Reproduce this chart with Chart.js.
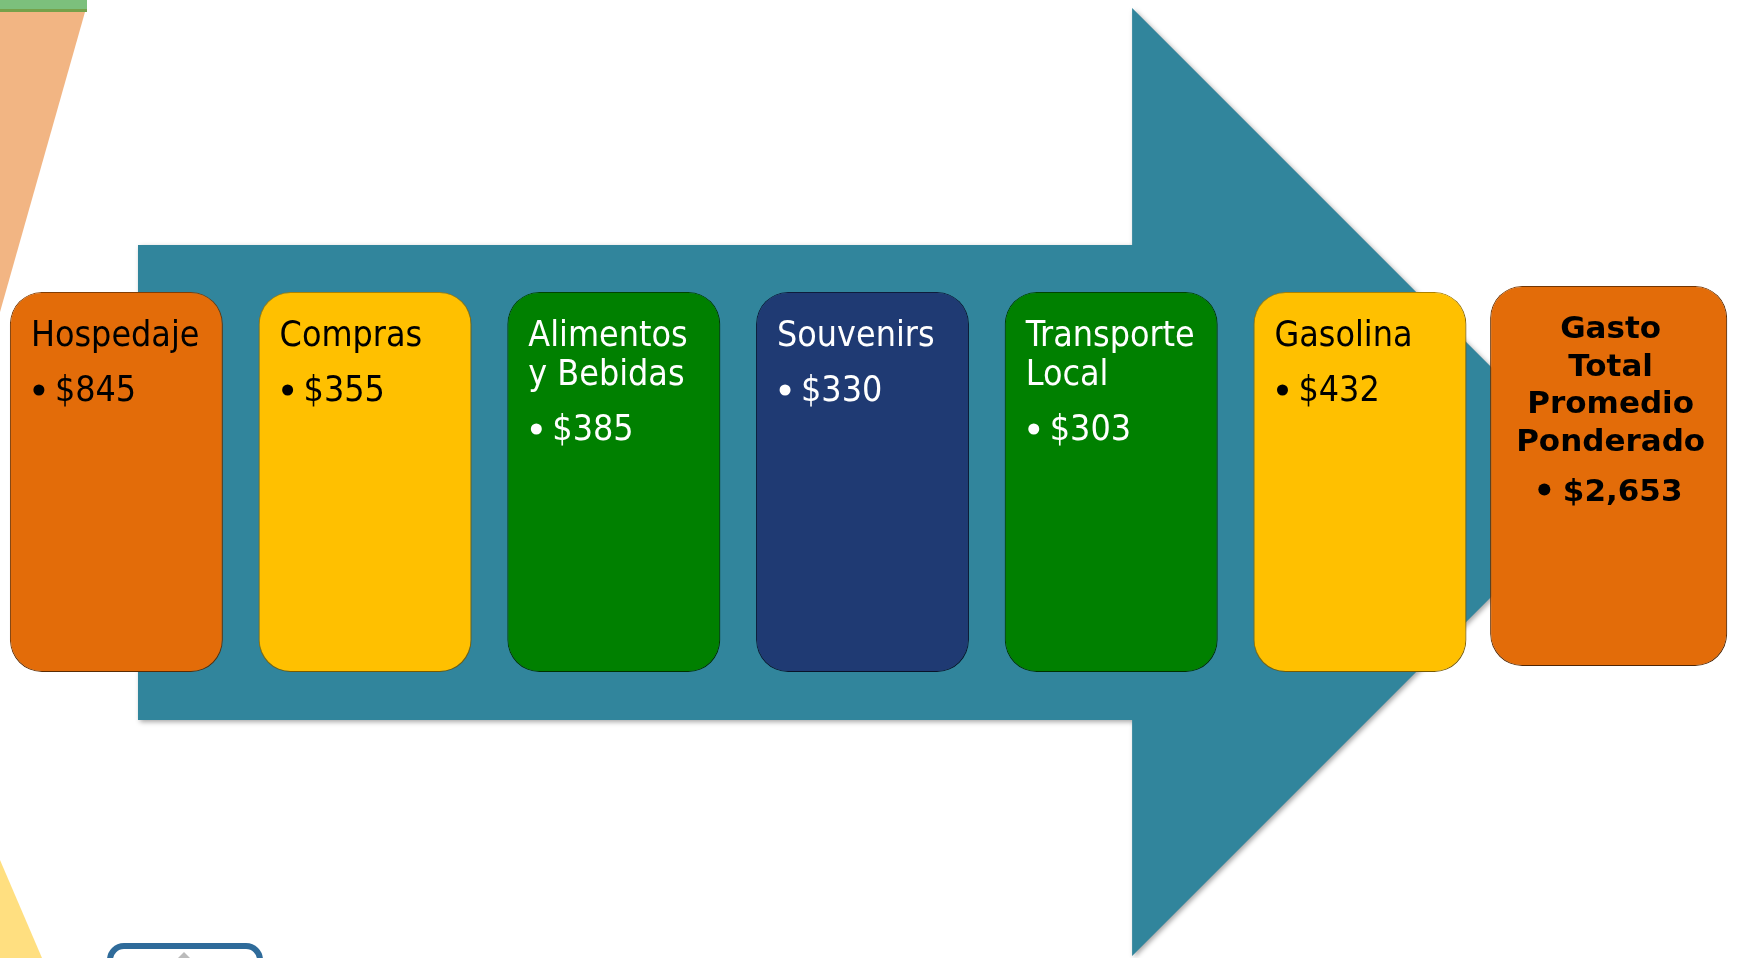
<!DOCTYPE html>
<html lang="es">
<head>
    <meta charset="utf-8">
    <title>Gasto Total Promedio Ponderado</title>
    <script src="https://cdn.jsdelivr.net/npm/chart.js@4"></script>
    <style>
    html, body {
        margin: 0;
        padding: 0;
        background: #fff;
        overflow: hidden;
    }
    /* el lienzo empieza 8px fuera de la ventana para que las cajas caigan donde van */
    #wrap {
        position: absolute;
        left: -8px;
        top: 0;
        width: 1741px;
        height: 958px;
    }
    </style>
</head>
<body>
    <div id="wrap"><canvas id="chart"></canvas></div>

    <script>
        // datos del diagrama
        var categorias = ['Hospedaje', 'Compras', 'Alimentos y Bebidas', 'Souvenirs', 'Transporte Local', 'Gasolina'];
        var lineasTitulo = [['Hospedaje'], ['Compras'], ['Alimentos', 'y Bebidas'], ['Souvenirs'], ['Transporte', 'Local'], ['Gasolina']];
        var gastos = [845, 355, 385, 330, 303, 432];
        var tituloTotal = ['Gasto', 'Total', 'Promedio', 'Ponderado'];
        var gastoTotal = 2653;

        var coloresCaja = ['#E36C09', '#FFC000', '#008000', '#1F3A73', '#008000', '#FFC000'];
        var bordesCaja = ['#8A4206', '#B88A00', '#004A00', '#0F1E40', '#004A00', '#B88A00'];
        var coloresTexto = ['#000', '#000', '#fff', '#fff', '#fff', '#000'];

        var OFF = 8;                 // desplazamiento del lienzo
        var CAJA = [292, 672];       // alto de las cajas (eje y invertido)
        var CAJA_TOTAL = [286, 666];

        var fuente = '"DejaVu Sans Condensed", "DejaVu Sans", sans-serif';

        function dinero(v) {
            return '$' + v.toLocaleString('en-US');
        }

        var diagrama = {
            id: 'diagrama',
            beforeDraw: function (chart) {
                var ctx = chart.ctx;
                ctx.save();
                ctx.fillStyle = '#fff';
                ctx.fillRect(0, 0, chart.width, chart.height);
                ctx.translate(OFF, 0);

                // adornos de la diapositiva
                ctx.fillStyle = '#F2B583';
                ctx.beginPath();
                ctx.moveTo(0, 12); ctx.lineTo(85, 12); ctx.lineTo(0, 312);
                ctx.closePath(); ctx.fill();
                ctx.fillStyle = '#7CC07C';
                ctx.fillRect(0, 0, 87, 9);
                ctx.fillStyle = '#76A14A';
                ctx.fillRect(0, 9, 87, 3);

                ctx.fillStyle = '#FFDF80';
                ctx.beginPath();
                ctx.moveTo(0, 860); ctx.lineTo(42, 958); ctx.lineTo(0, 958);
                ctx.closePath(); ctx.fill();

                ctx.strokeStyle = '#2F6B9A';
                ctx.lineWidth = 6;
                ctx.beginPath();
                ctx.roundRect(110, 946, 150, 40, 14);
                ctx.stroke();
                ctx.fillStyle = '#BBBBBB';
                ctx.beginPath();
                ctx.moveTo(178, 958); ctx.lineTo(184, 952); ctx.lineTo(190, 958);
                ctx.closePath(); ctx.fill();
                ctx.restore();
            },
            beforeDatasetsDraw: function (chart) {
                // flecha de fondo
                var ctx = chart.ctx;
                var x = chart.scales.x, y = chart.scales.y;
                var izq = x.getPixelForValue(0.087);
                var base = x.getPixelForValue(4.084);
                var cuerpoArriba = y.getPixelForValue(245);
                var cuerpoAbajo = y.getPixelForValue(720);
                var puntaArriba = y.getPixelForValue(8);
                var puntaAbajo = y.getPixelForValue(956);
                var medio = (puntaArriba + puntaAbajo) / 2;
                var punta = base + (puntaAbajo - puntaArriba) / 2;

                ctx.save();
                ctx.shadowColor = 'rgba(0,0,0,0.35)';
                ctx.shadowBlur = 5;
                ctx.shadowOffsetX = 2;
                ctx.shadowOffsetY = 2;
                ctx.fillStyle = '#31859C';
                ctx.beginPath();
                ctx.moveTo(izq, cuerpoArriba);
                ctx.lineTo(base, cuerpoArriba);
                ctx.lineTo(base, puntaArriba);
                ctx.lineTo(punta, medio);
                ctx.lineTo(base, puntaAbajo);
                ctx.lineTo(base, cuerpoAbajo);
                ctx.lineTo(izq, cuerpoAbajo);
                ctx.closePath();
                ctx.fill();
                ctx.restore();
            },
            beforeDatasetDraw: function (chart) {
                var ctx = chart.ctx;
                ctx.save();
                ctx.shadowColor = 'rgba(0,0,0,0.45)';
                ctx.shadowBlur = 6;
                ctx.shadowOffsetX = 1;
                ctx.shadowOffsetY = 3;
            },
            afterDatasetDraw: function (chart) {
                chart.ctx.restore();
            },
            afterDatasetsDraw: function (chart) {
                var ctx = chart.ctx;
                ctx.save();
                ctx.textBaseline = 'alphabetic';

                // cajas de conceptos
                var meta = chart.getDatasetMeta(0);
                gastos.forEach(function (v, i) {
                    var el = meta.data[i];
                    var p = el.getProps(['x', 'y', 'base', 'width'], true);
                    var izq = p.x - p.width / 2;
                    var arriba = Math.min(p.y, p.base);
                    ctx.fillStyle = coloresTexto[i];
                    ctx.textAlign = 'left';
                    ctx.font = '35.5px ' + fuente;
                    var yLinea = arriba + 54;
                    lineasTitulo[i].forEach(function (t, k) {
                        ctx.fillText(t, izq + 21, yLinea + k * 39);
                    });
                    var yValor = yLinea + (lineasTitulo[i].length - 1) * 39 + 55;
                    ctx.beginPath();
                    ctx.arc(izq + 29, yValor - 11, 5.5, 0, Math.PI * 2);
                    ctx.fill();
                    ctx.fillText(dinero(v), izq + 45, yValor);
                });

                // caja del total
                var elT = chart.getDatasetMeta(1).data[gastos.length];
                var pT = elT.getProps(['x', 'y', 'base'], true);
                var arribaT = Math.min(pT.y, pT.base);
                ctx.fillStyle = '#000';
                ctx.textAlign = 'center';
                ctx.font = 'bold 31px "DejaVu Sans", sans-serif';
                var yT = arribaT + 52;
                tituloTotal.forEach(function (t, k) {
                    ctx.fillText(t, pT.x + 2, yT + k * 37.5);
                });
                var yValorT = yT + (tituloTotal.length - 1) * 37.5 + 50;
                var txt = dinero(gastoTotal);
                var w = ctx.measureText(txt).width;
                var inicio = pT.x + 2 - (11 + 13 + w) / 2;
                ctx.beginPath();
                ctx.arc(inicio + 5.5, yValorT - 11, 6, 0, Math.PI * 2);
                ctx.fill();
                ctx.textAlign = 'left';
                ctx.fillText(txt, inicio + 24, yValorT);
                ctx.restore();
            }
        };

        var etiquetas = categorias.concat(['Gasto Total Promedio Ponderado']);
        var datosCajas = gastos.map(function () { return CAJA; }).concat([null]);
        var datosTotal = gastos.map(function () { return null; }).concat([CAJA_TOTAL]);

        var chart = new Chart(document.getElementById('chart'), {
            type: 'bar',
            data: {
                labels: etiquetas,
                datasets: [{
                    label: 'Conceptos',
                    data: datosCajas,
                    backgroundColor: coloresCaja,
                    borderColor: bordesCaja,
                    borderWidth: 1,
                    borderSkipped: false,
                    borderRadius: 32,
                    barPercentage: 0.856,
                    categoryPercentage: 1
                }, {
                    label: 'Total',
                    data: datosTotal,
                    backgroundColor: '#E36C09',
                    borderColor: '#7A3A05',
                    borderWidth: 1,
                    borderSkipped: false,
                    borderRadius: 32,
                    barPercentage: 0.953,
                    categoryPercentage: 1
                }]
            },
            options: {
                responsive: true,
                maintainAspectRatio: false,
                animation: false,
                events: [],
                layout: { padding: 0 },
                plugins: {
                    legend: { display: false },
                    tooltip: { enabled: false }
                },
                scales: {
                    x: {
                        display: false,
                        offset: true
                    },
                    y: {
                        display: false,
                        reverse: true,
                        min: 0,
                        max: 958
                    }
                },
                datasets: {
                    bar: { grouped: false }
                }
            },
            plugins: [diagrama]
        });
    </script>
</body>
</html>
